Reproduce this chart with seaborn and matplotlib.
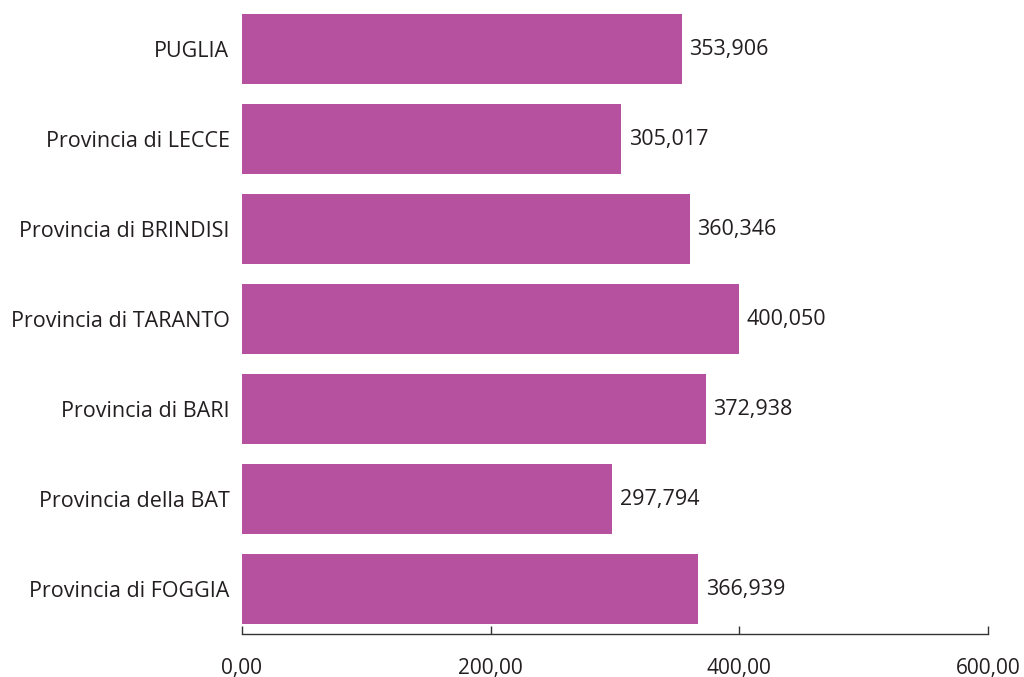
import matplotlib
matplotlib.use("Agg")
import matplotlib.pyplot as plt
import seaborn as sns
import pandas as pd

categories = [
    "PUGLIA",
    "Provincia di LECCE",
    "Provincia di BRINDISI",
    "Provincia di TARANTO",
    "Provincia di BARI",
    "Provincia della BAT",
    "Provincia di FOGGIA",
]
values = [353.906, 305.017, 360.346, 400.050, 372.938, 297.794, 366.939]
x_ticks = [0, 200, 400, 600]
x_tick_labels = ["0,00", "200,00", "400,00", "600,00"]

sns.set_theme(style="white")
plt.rcParams["font.family"] = ["Open Sans", "DejaVu Sans"]
text_color = "#231F20"
bar_color = "#B5519F"

df = pd.DataFrame({"area": categories, "valore": values})

fig = plt.figure(figsize=(10.24, 6.77), dpi=100)
ax = fig.add_axes([242 / 1024, 43 / 677, 746 / 1024, 630 / 677])

sns.barplot(data=df, x="valore", y="area", orient="h", color=bar_color,
            saturation=1, width=0.78, linewidth=0, ax=ax)

for i, v in enumerate(values):
    ax.text(v + 6, i, f"{v:.3f}".replace(".", ","), va="center", ha="left",
            fontsize=15.5, color=text_color)

ax.set_xlim(0, 600)
ax.set_ylim(6.5, -0.5)
ax.set_xticks(x_ticks)
ax.set_xticklabels(x_tick_labels)
ax.set_xlabel("")
ax.set_ylabel("")
for side in ["top", "right", "left"]:
    ax.spines[side].set_visible(False)
ax.spines["bottom"].set_color("#333333")
ax.spines["bottom"].set_linewidth(1.0)
ax.tick_params(axis="x", bottom=True, direction="in", length=6, width=1.0,
               color="#333333", labelsize=15, labelcolor=text_color, pad=17)
ax.tick_params(axis="y", left=False, length=0, labelsize=15.5,
               labelcolor=text_color, pad=9)

fig.savefig("out.png", dpi=100)
